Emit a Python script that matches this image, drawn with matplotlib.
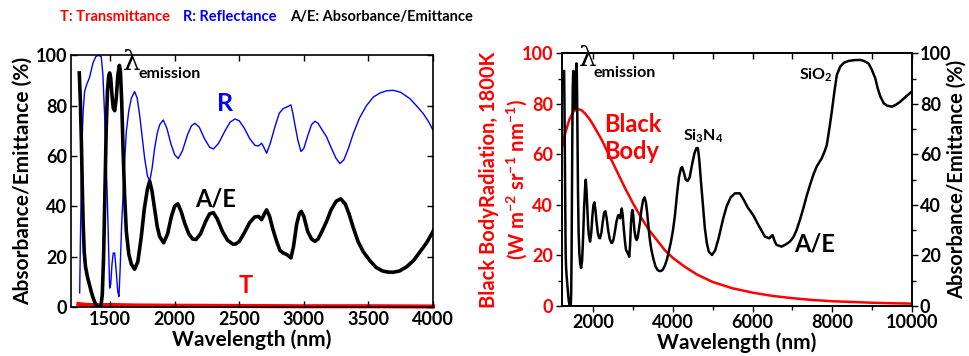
import numpy as np
import matplotlib
matplotlib.use("Agg")
import matplotlib.pyplot as plt
from matplotlib.ticker import MultipleLocator

plt.rcParams['font.family'] = ['Lato', 'DejaVu Sans']
plt.rcParams['font.weight'] = 'bold'
plt.rcParams['axes.labelweight'] = 'bold'
plt.rcParams['mathtext.fontset'] = 'custom'
plt.rcParams['mathtext.rm'] = 'Lato:bold'
plt.rcParams['mathtext.bf'] = 'Lato:bold'
plt.rcParams['axes.linewidth'] = 1.2

# absorbance / emittance (%)
wl_ae = [1262, 1270, 1278, 1285, 1292, 1300, 1310, 1325, 1340, 1355, 1370, 1385, 1400, 1415, 1430,
         1440, 1450, 1460, 1470, 1480, 1490, 1497, 1505, 1515, 1525, 1536, 1548, 1560, 1572, 1580,
         1590, 1600, 1612, 1626, 1645, 1665, 1690, 1715, 1742, 1765, 1790, 1807, 1825, 1845, 1865,
         1884, 1915, 1945, 1975, 2000, 2025, 2050, 2080, 2110, 2140, 2165, 2200, 2240, 2270, 2300,
         2330, 2370, 2410, 2450, 2470, 2500, 2540, 2580, 2620, 2650, 2673, 2695, 2712, 2735, 2760,
         2790, 2815, 2840, 2870, 2900, 2920, 2945, 2965, 2980, 3000, 3030, 3060, 3086, 3110, 3140,
         3176, 3210, 3250, 3285, 3320, 3350, 3383, 3420, 3460, 3510, 3560, 3610, 3650, 3690, 3740,
         3796, 3850, 3900, 3950, 4000, 4050, 4100, 4150, 4200, 4230, 4270, 4320, 4370, 4420, 4480,
         4540, 4590, 4627, 4660, 4700, 4753, 4800, 4850, 4900, 4980, 5060, 5150, 5260, 5350, 5450,
         5560, 5680, 5780, 5880, 6016, 6150, 6310, 6420, 6504, 6560, 6605, 6731, 6850, 6941, 7026,
         7109, 7200, 7278, 7360, 7446, 7530, 7614, 7741, 7820, 7867, 7930, 7993, 8060, 8119, 8204,
         8300, 8414, 8560, 8709, 8800, 8919, 9000, 9087, 9150, 9214, 9300, 9382, 9508, 9600, 9719,
         9850, 10000]
ae = [93, 82, 66, 48, 33, 22, 16, 12, 9, 6, 3.5, 1.5, 0.3, 0, 0.5,
      5, 20, 45, 70, 86, 92, 93, 91, 84, 79, 78, 83, 92, 96, 94,
      82, 64, 45, 30, 21, 17, 15, 18, 28, 39, 47, 50, 46, 39, 32,
      28, 25.5, 29, 36, 40, 41, 38, 33, 29, 27, 26.8, 29, 34, 37, 37.5,
      35, 30, 26.5, 25, 25, 26, 29.5, 33.5, 35.8, 36, 34.7, 37, 38.6, 36, 31,
      26, 22.5, 21.5, 20.8, 19.5, 24, 33, 37, 38, 36, 30, 27, 26.1, 27, 30,
      34, 38.5, 42, 43, 41, 37, 31.5, 26, 22, 18.5, 15.7, 14.3, 13.9, 13.8, 14.3,
      16, 18.5, 22, 25.5, 30, 36, 44, 51, 54.5, 55, 53, 50, 49.5, 51, 56,
      60.5, 62.5, 62.5, 58, 50, 40, 31, 25, 21.5, 20.2, 22, 27, 34.5, 39.5, 43,
      44.6, 44.6, 42, 39, 36, 32, 27.5, 26.8, 28.1, 25.5, 24.2, 23.5, 24.5, 25.5, 27.2,
      30.1, 34.5, 38.7, 43.5, 47.9, 52, 55.2, 58.5, 61.5, 63.7, 70, 76.9, 85, 91.4, 94.7,
      96.3, 97, 97.3, 97.4, 97, 96, 93.5, 90.1, 86, 82.9, 80.2, 79.3, 78.9, 79.6, 80.9,
      82.8, 84.8]

# reflectance (%)
wl_r = [1265, 1270, 1278, 1285, 1292, 1303, 1320, 1340, 1368, 1390, 1410, 1432, 1445, 1458, 1468,
        1479, 1488, 1497, 1505, 1515, 1525, 1536, 1548, 1560, 1569, 1578, 1590, 1600, 1612, 1626,
        1645, 1665, 1690, 1710, 1729, 1750, 1768, 1790, 1807, 1825, 1845, 1865, 1884, 1912, 1940,
        1970, 2000, 2028, 2060, 2100, 2130, 2157, 2190, 2230, 2270, 2300, 2340, 2390, 2430, 2467,
        2500, 2540, 2580, 2622, 2650, 2673, 2690, 2712, 2740, 2777, 2810, 2840, 2870, 2900, 2915,
        2931, 2955, 2978, 3000, 3030, 3060, 3086, 3110, 3140, 3176, 3210, 3250, 3280, 3310, 3345,
        3383, 3430, 3486, 3540, 3589, 3640, 3692, 3750, 3821, 3880, 3925, 3970, 4000]
refl = [5.6, 25, 50, 68, 78, 85.6, 88.5, 91, 97, 99.5, 100, 99.5, 92, 76, 60,
        43, 25, 7.5, 9, 17, 21.5, 21.4, 14, 6, 4.2, 15, 33, 43.3, 57, 69.7,
        78, 83, 85.6, 83, 76.3, 67, 59, 52, 50, 55, 63, 69, 72.4, 74.3, 71,
        65, 60.5, 59, 62, 68.5, 72, 73, 71.5, 67, 63.5, 62.8, 65, 70, 73.5, 74.7,
        74, 71, 67, 64.2, 64, 65.1, 63.5, 61.1, 65, 71.7, 77, 78.8, 79.5, 80.3, 77,
        72.4, 66, 61.8, 63, 68, 72.5, 73.8, 73, 70.5, 67.6, 63.5, 59, 57, 58.5, 63,
        68.9, 75, 80.1, 83.5, 85, 85.9, 86.1, 85.3, 82.8, 79.5, 76.8, 73.3, 70.2]

# transmittance (%)
wl_t = [1255, 1300, 1400, 1500, 1700, 2000, 2500, 3000, 3500, 4000]
trans = [1.2, 0.9, 0.7, 0.8, 0.6, 0.5, 0.4, 0.3, 0.3, 0.2]

# black body radiation at 1800 K (W m-2 sr-1 nm-1)
wl_bb = [1200, 1300, 1400, 1500, 1600, 1700, 1800, 1900, 2000, 2200, 2400, 2600, 2800, 3000,
         3200, 3400, 3600, 3800, 4000, 4300, 4600, 5000, 5500, 6000, 6500, 7000, 7500, 8000,
         8500, 9000, 9500, 10000]
bb = [62, 69, 74, 77, 78, 77.5, 76, 74, 71.5, 66, 59.5, 53, 46.5, 40.5,
      35, 30, 26, 22, 19, 15.5, 12.5, 9.5, 7, 5.3, 4, 3.1, 2.4, 1.9,
      1.6, 1.3, 1.1, 0.95]


def bold_ticks(ax):
    for lab in ax.get_xticklabels() + ax.get_yticklabels():
        lab.set_fontweight('bold')


fig = plt.figure(figsize=(9.7, 3.56), dpi=100)

# ---- left panel
ax1 = fig.add_axes([0.0735, 0.1376, 0.3729, 0.707])
ax1.plot(wl_t, trans, color='red', lw=3, clip_on=False, zorder=1)
ax1.plot(wl_r, refl, color='blue', lw=1.0, zorder=2)
ax1.plot(wl_ae, ae, color='black', lw=2.6, zorder=3)
ax1.set_xlim(1200, 4000)
ax1.set_ylim(0, 100)
ax1.set_xticks(np.arange(1500, 4001, 500))
ax1.set_yticks(np.arange(0, 101, 20))
ax1.tick_params(direction='in', top=True, right=True, length=4, width=1, labelsize=13, pad=3)
bold_ticks(ax1)
ax1.set_xlabel("Wavelength (nm)", fontsize=15, labelpad=1)
ax1.set_ylabel("Absorbance/Emittance (%)", fontsize=15, labelpad=2)

ax1.text(1600, 97, "λ", fontsize=20, family='DejaVu Serif', fontweight='normal', ha='left', va='center')
ax1.text(1724, 92.5, "emission", fontsize=11.5, ha='left', va='center')
ax1.text(2390, 81, "R", color='blue', fontsize=18, ha='center', va='center')
ax1.text(2314, 43, "A/E", color='black', fontsize=17, ha='center', va='center')
ax1.text(2552, 8.7, "T", color='red', fontsize=17, ha='center', va='center')

# ---- right panel
ax2 = fig.add_axes([0.579, 0.1404, 0.3608, 0.7098])
ax2.plot(wl_bb, bb, color='red', lw=1.8)
ax2.set_xlim(1200, 10000)
ax2.set_ylim(0, 100)
ax2.xaxis.set_major_locator(MultipleLocator(2000))
ax2.xaxis.set_minor_locator(MultipleLocator(1000))
ax2.yaxis.set_major_locator(MultipleLocator(20))
ax2.yaxis.set_minor_locator(MultipleLocator(10))
ax2.tick_params(which='major', direction='out', length=4, width=1, labelsize=13, pad=2)
ax2.tick_params(which='minor', direction='out', length=3, width=1)
ax2.tick_params(axis='y', labelcolor='red')
bold_ticks(ax2)
ax2.set_xlabel("Wavelength (nm)", fontsize=15, labelpad=1)
ax2.set_ylabel("Black BodyRadiation, 1800K", color='red', fontsize=14.5)
ax2.yaxis.set_label_coords(-0.18, 0.5)
ax2.text(-0.13, 0.5, "(W m$^{-2}$ sr$^{-1}$ nm$^{-1}$)", transform=ax2.transAxes, rotation=90,
         color='red', fontsize=14.5, ha='center', va='center')

top = ax2.secondary_xaxis('top')
top.xaxis.set_major_locator(MultipleLocator(2000))
top.xaxis.set_minor_locator(MultipleLocator(1000))
top.tick_params(which='both', direction='in', labeltop=False, length=4, width=1)

ax3 = ax2.twinx()
ax3.plot(wl_ae, ae, color='black', lw=1.8)
ax3.set_ylim(0, 100)
ax3.yaxis.set_major_locator(MultipleLocator(20))
ax3.yaxis.set_minor_locator(MultipleLocator(10))
ax3.tick_params(which='major', direction='out', length=4, width=1, labelsize=13, pad=2)
ax3.tick_params(which='minor', direction='out', length=3, width=1)
bold_ticks(ax3)
ax3.set_ylabel("Absorbance/Emittance (%)", fontsize=14.5)
ax3.yaxis.set_label_coords(1.1, 0.5)

ax3.text(1640, 98, "λ", fontsize=20, family='DejaVu Serif', fontweight='normal', ha='left', va='center')
ax3.text(2008, 92.2, "emission", fontsize=11.5, ha='left', va='center')
ax3.text(2270, 66.5, "Black\nBody", color='red', fontsize=17, ha='left', va='center', linespacing=1.2)
ax3.text(4753, 67.3, "Si$_3$N$_4$", fontsize=11.5, ha='center', va='center')
ax3.text(7598, 91.4, "SiO$_2$", fontsize=11.5, ha='center', va='center')
ax3.text(7548, 24.5, "A/E", fontsize=17, ha='center', va='center')

# ---- header
fig.text(0.062, 0.952, "T: Transmittance", color='red', fontsize=10.5, va='center')
fig.text(0.189, 0.952, "R: Reflectance", color='blue', fontsize=10.5, va='center')
fig.text(0.299, 0.952, "A/E: Absorbance/Emittance", color='black', fontsize=10.5, va='center')

fig.savefig("out.png", dpi=100)
